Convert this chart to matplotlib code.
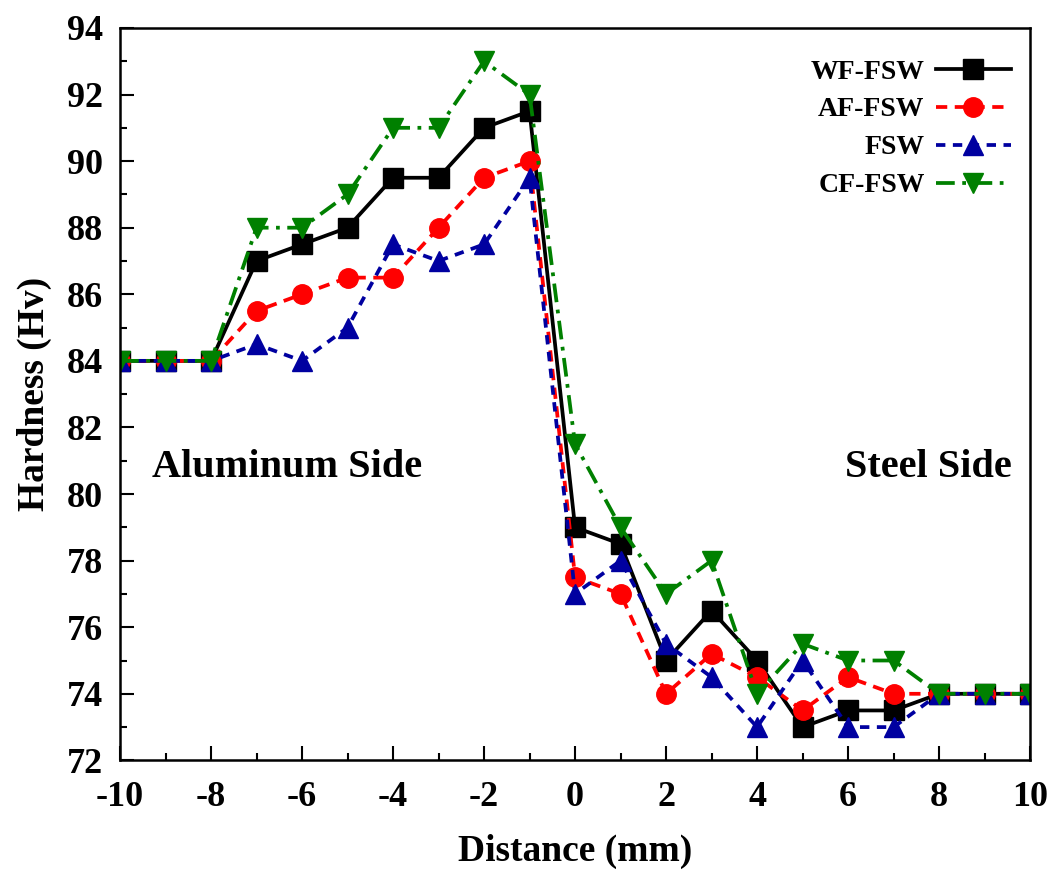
import matplotlib
matplotlib.use('Agg')
from matplotlib import pyplot as plt
from matplotlib.ticker import MultipleLocator

plt.rcParams['font.family'] = ['Liberation Serif']
plt.rcParams['font.weight'] = 'bold'
plt.rcParams['axes.unicode_minus'] = False

distance = [-10, -9, -8, -7, -6, -5, -4, -3, -2, -1, 0, 1, 2, 3, 4, 5, 6, 7, 8, 9, 10]
wf_fsw = [84, 84, 84, 87, 87.5, 88, 89.5, 89.5, 91, 91.5, 79, 78.5, 75, 76.5, 75, 73, 73.5, 73.5, 74, 74, 74]
af_fsw = [84, 84, 84, 85.5, 86, 86.5, 86.5, 88, 89.5, 90, 77.5, 77, 74, 75.2, 74.5, 73.5, 74.5, 74, 74, 74, 74]
fsw = [84, 84, 84, 84.5, 84, 85, 87.5, 87, 87.5, 89.5, 77, 78, 75.5, 74.5, 73, 75, 73, 73, 74, 74, 74]
cf_fsw = [84, 84, 84, 88, 88, 89, 91, 91, 93, 92, 81.5, 79, 77, 78, 74, 75.5, 75, 75, 74, 74, 74]

fig = plt.figure(figsize=(10.62, 8.73), dpi=100)
ax = fig.add_axes([0.113, 0.129, 0.857, 0.839])

series = [
    (wf_fsw, 'WF-FSW', 'black', 's', '-'),
    (af_fsw, 'AF-FSW', '#ff0000', 'o', (0, (3, 2))),
    (fsw, 'FSW', '#0000a0', '^', (0, (2.5, 2))),
    (cf_fsw, 'CF-FSW', '#008000', 'v', (0, (5, 2, 1, 2))),
]
for vals, label, color, marker, ls in series:
    ax.plot(distance, vals, color=color, marker=marker, linestyle=ls, linewidth=2.7,
            markersize=14, label=label)

ax.set_xlim(-10, 10)
ax.set_ylim(72, 94)
ax.xaxis.set_major_locator(MultipleLocator(2))
ax.xaxis.set_minor_locator(MultipleLocator(1))
ax.yaxis.set_major_locator(MultipleLocator(2))
ax.yaxis.set_minor_locator(MultipleLocator(1))
ax.tick_params(which='both', direction='in', width=1.5, labelsize=26)
ax.tick_params(which='major', length=10)
ax.tick_params(which='minor', length=5)
ax.tick_params(axis='x', pad=15)
ax.tick_params(axis='y', pad=12)
for s in ax.spines.values():
    s.set_linewidth(1.8)

ax.set_xlabel('Distance (mm)', fontsize=27, fontweight='bold', labelpad=14)
ax.set_ylabel('Hardness (Hv)', fontsize=27, fontweight='bold', labelpad=11)

ax.text(-9.3, 80.8, 'Aluminum Side', fontsize=29, fontweight='bold', va='center')
ax.text(9.6, 80.8, 'Steel Side', fontsize=29, fontweight='bold', va='center', ha='right')

ax.legend(loc='upper right', bbox_to_anchor=(1.0, 0.984), frameon=False,
          markerfirst=False, fontsize=20, handlelength=2.7, handletextpad=0.4,
          labelspacing=0.45, borderaxespad=0.3, borderpad=0.4)

fig.savefig('out.png', dpi=100)
